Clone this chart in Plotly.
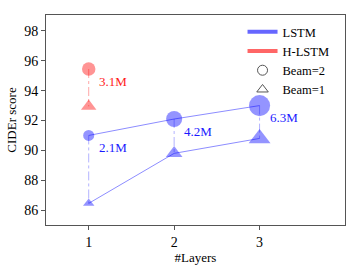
import plotly.graph_objects as go

layers = [1, 2, 3]
lstm_beam2 = [91.0, 92.1, 93.0]
lstm_beam1 = [86.45, 89.8, 90.8]
lstm_params = [2.1, 4.2, 6.3]
lstm_labels = ["2.1M", "4.2M", "6.3M"]

hlstm_layers = [1]
hlstm_beam2 = [95.45]
hlstm_beam1 = [92.95]
hlstm_params = [3.1]
hlstm_labels = ["3.1M"]

y_ticks = [86, 88, 90, 92, 94, 96, 98]
x_ticks = [1, 2, 3]

BLUE = "rgba(0,0,255,0.6)"
BLUE_LINE = "rgba(0,0,255,0.45)"
BLUE_DASH = "rgba(0,0,255,0.3)"
RED = "rgba(255,0,0,0.6)"
RED_DASH = "rgba(255,0,0,0.35)"
FONT = "Liberation Serif"


def msize(p):
    return 6 + 2.4 * p


fig = go.Figure()

# vertical dashed connectors
for x, a, b in zip(layers, lstm_beam2, lstm_beam1):
    fig.add_trace(go.Scatter(x=[x, x], y=[a, b], mode="lines",
                             line=dict(color=BLUE_DASH, width=1, dash="dashdot"),
                             showlegend=False, hoverinfo="skip"))
for x, a, b in zip(hlstm_layers, hlstm_beam2, hlstm_beam1):
    fig.add_trace(go.Scatter(x=[x, x], y=[a, b], mode="lines",
                             line=dict(color=RED_DASH, width=1, dash="dashdot"),
                             showlegend=False, hoverinfo="skip"))

# LSTM lines + markers
fig.add_trace(go.Scatter(x=layers, y=lstm_beam2, mode="lines+markers",
                         line=dict(color=BLUE_LINE, width=1),
                         marker=dict(symbol="circle", color=BLUE,
                                     size=[msize(p) for p in lstm_params], line=dict(width=0)),
                         showlegend=False))
fig.add_trace(go.Scatter(x=layers, y=lstm_beam1, mode="lines+markers",
                         line=dict(color=BLUE_LINE, width=1),
                         marker=dict(symbol="triangle-up", color=BLUE,
                                     size=[msize(p) * 0.9 for p in lstm_params], line=dict(width=0)),
                         showlegend=False))
# H-LSTM markers
fig.add_trace(go.Scatter(x=hlstm_layers, y=hlstm_beam2, mode="markers",
                         marker=dict(symbol="circle", color=RED,
                                     size=[msize(p) for p in hlstm_params], line=dict(width=0)),
                         showlegend=False))
fig.add_trace(go.Scatter(x=hlstm_layers, y=hlstm_beam1, mode="markers",
                         marker=dict(symbol="triangle-up", color=RED,
                                     size=[msize(p) for p in hlstm_params], line=dict(width=0)),
                         showlegend=False))

# legend entries
fig.add_trace(go.Scatter(x=[None], y=[None], mode="lines", name="LSTM",
                         line=dict(color=BLUE, width=4)))
fig.add_trace(go.Scatter(x=[None], y=[None], mode="lines", name="H-LSTM",
                         line=dict(color=RED, width=4)))
fig.add_trace(go.Scatter(x=[None], y=[None], mode="markers", name="Beam=2",
                         marker=dict(symbol="circle-open", color="#555555", size=10, line=dict(width=1))))
fig.add_trace(go.Scatter(x=[None], y=[None], mode="markers", name="Beam=1",
                         marker=dict(symbol="triangle-up-open", color="#555555", size=10, line=dict(width=1))))

annotations = []
for x, y, t in zip(layers, lstm_beam2, lstm_labels):
    annotations.append(dict(x=x, y=y, text=t, showarrow=False, xanchor="left", yanchor="middle",
                            xshift=8, yshift=-12, font=dict(family=FONT, size=13, color="#1a1aff")))
for x, y, t in zip(hlstm_layers, hlstm_beam2, hlstm_labels):
    annotations.append(dict(x=x, y=y, text=t, showarrow=False, xanchor="left", yanchor="middle",
                            xshift=8, yshift=-12, font=dict(family=FONT, size=13, color="#ff1a1a")))

axis_common = dict(showline=True, mirror=True, linecolor="#555555", linewidth=1,
                   ticks="outside", ticklen=4, tickcolor="#555555", showgrid=False,
                   zeroline=False, automargin=False,
                   tickfont=dict(family=FONT, size=14, color="black"))

fig.update_layout(
    width=360, height=270,
    margin=dict(l=46, r=15, t=15, b=45, autoexpand=False),
    plot_bgcolor="white", paper_bgcolor="white",
    font=dict(family=FONT, color="black"),
    annotations=annotations,
    xaxis=dict(range=[0.5, 4.0], tickvals=x_ticks,
               title=dict(text="#Layers", font=dict(family=FONT, size=13), standoff=4),
               **axis_common),
    yaxis=dict(range=[85.0, 99.07], tickvals=y_ticks,
               title=dict(text="CIDEr score", font=dict(family=FONT, size=13), standoff=4),
               **axis_common),
    legend=dict(x=0.965, y=0.99, xanchor="right", yanchor="top",
                bgcolor="rgba(0,0,0,0)", font=dict(family=FONT, size=12.5),
                itemwidth=30, tracegroupgap=0),
)

fig.write_html("out.html", config={"displayModeBar": False},
               post_script="document.body.style.margin='0';document.body.style.overflow='hidden';")
